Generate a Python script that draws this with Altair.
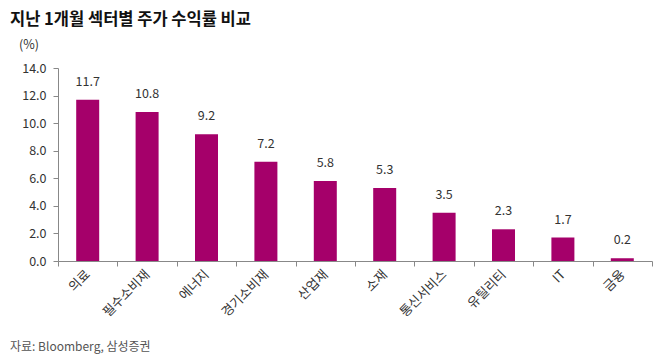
import altair as alt
import pandas as pd

sectors = ["의료", "필수소비재", "에너지", "경기소비재", "산업재", "소재", "통신서비스", "유틸리티", "IT", "금융"]
returns = [11.7, 10.8, 9.2, 7.2, 5.8, 5.3, 3.5, 2.3, 1.7, 0.2]
title_text = "지난 1개월 섹터별 주가 수익률 비교"
unit_text = "(%)"
source_text = "자료: Bloomberg, 삼성증권"
y_ticks = [0, 2, 4, 6, 8, 10, 12, 14]

df = pd.DataFrame({"sector": sectors, "ret": returns})
FONT = "Noto Sans CJK KR"
W, H = 594, 193

x = alt.X("sector:N", sort=sectors, title=None,
          scale=alt.Scale(paddingInner=0, paddingOuter=0),
          axis=alt.Axis(tickBand="extent", labelAngle=-45,
                        labelFont=FONT, labelFontSize=13, labelColor="#333333",
                        labelPadding=6, tickSize=5, tickColor="#888888",
                        domainColor="#888888", labelAlign="right", labelBaseline="middle"))
y = alt.Y("ret:Q", title=None,
          scale=alt.Scale(domain=[0, 14], nice=False),
          axis=alt.Axis(values=y_ticks, format=".1f", grid=False,
                        labelOverlap=False, labelBound=False, labelFlush=False,
                        labelFont=FONT, labelFontSize=12.5, labelColor="#333333",
                        labelPadding=7, tickSize=5, tickColor="#888888",
                        domainColor="#888888"))

base = alt.Chart(df).encode(x=x, y=y)
bars = base.mark_bar(color="#A5006A", width=23)
labels = base.mark_text(font=FONT, fontSize=12.5, color="#333333", baseline="bottom", dy=-11).encode(
    text=alt.Text("ret:Q", format=".1f"))

def note(txt, xv, yv, size, weight="normal", color="#333333", align="left"):
    return alt.Chart(pd.DataFrame({"t": [txt]})).mark_text(
        font=FONT, fontSize=size, fontWeight=weight, color=color, align=align, baseline="middle"
    ).encode(text="t:N", x=alt.value(xv), y=alt.value(yv))

chart = alt.layer(
    bars, labels,
    note(title_text, -48, -48, 16.5, "bold", "#111111"),
    note(unit_text, -39, -23, 12.5),
    note(source_text, -48, 279, 12, color="#555555"),
).properties(
    width=W, height=H,
    autosize=alt.AutoSizeParams(type="none"),
    padding={"left": 50, "top": 60, "right": 4, "bottom": 93},
).configure_view(stroke=None)

chart.save("out.html", embed_options={"renderer": "svg", "actions": False})
